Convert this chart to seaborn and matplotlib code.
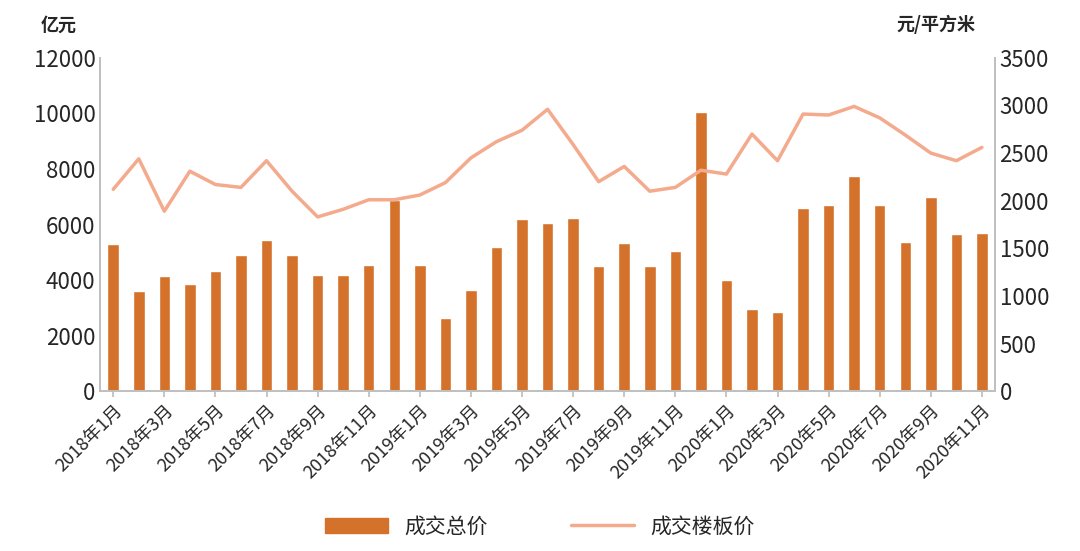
import numpy as np
import pandas as pd
import matplotlib
matplotlib.use("Agg")
import matplotlib.pyplot as plt
import seaborn as sns

months = [f"{y}年{m}月" for y in (2018, 2019, 2020) for m in range(1, 13)][:35]
total_price = [5300, 3600, 4150, 3850, 4330, 4900, 5430, 4900, 4200, 4170, 4550, 6900,
               4550, 2650, 3650, 5200, 6200, 6050, 6230, 4500, 5330, 4500, 5050, 10050,
               4000, 2950, 2850, 6600, 6700, 7750, 6700, 5370, 7000, 5650, 5700]
floor_price = [2120, 2440, 1890, 2310, 2170, 2140, 2420, 2100, 1830, 1910, 2010, 2010,
               2060, 2190, 2450, 2620, 2740, 2960, 2590, 2200, 2360, 2100, 2140, 2320,
               2280, 2700, 2420, 2910, 2900, 2990, 2870, 2690, 2500, 2420, 2560]

df = pd.DataFrame({"month": months, "total": total_price, "floor": floor_price})
df["x"] = np.arange(len(df))

sns.set_theme(style="white")
plt.rcParams['font.family'] = ['Noto Sans CJK SC', 'DejaVu Sans']

fig, ax = plt.subplots(figsize=(10.8, 5.51), dpi=100)
fig.subplots_adjust(left=0.093, right=0.921, top=0.895, bottom=0.29)

bar_c = "#D4722B"
line_c = "#F4AA8C"
sns.barplot(data=df, x="x", y="total", color=bar_c, width=0.45, ax=ax, saturation=1)
ax2 = ax.twinx()
sns.lineplot(data=df, x="x", y="floor", color=line_c, linewidth=2.5, ax=ax2)

ax.set_ylim(0, 12000)
ax.set_yticks(range(0, 12001, 2000))
ax2.set_ylim(0, 3500)
ax2.set_yticks(range(0, 3501, 500))
ax.set_xlim(-0.5, len(df) - 0.5)
ax2.set_xlim(-0.5, len(df) - 0.5)
ax.set_xticks(df["x"][::2])
ax.set_xticklabels(df["month"][::2], rotation=45, ha="right", rotation_mode="anchor", fontsize=13)
for a in (ax, ax2):
    a.set_xlabel("")
    a.set_ylabel("")
    a.tick_params(axis="y", labelsize=16, length=0)
    for s in ("top",):
        a.spines[s].set_visible(False)
    for s in ("left", "right", "bottom"):
        a.spines[s].set_color("#BFBFBF")
ax.tick_params(axis="x", length=4, color="#BFBFBF", bottom=True)

fig.text(0.038, 0.945, "亿元", fontsize=13, fontweight="bold")
fig.text(0.83, 0.945, "元/平方米", fontsize=13, fontweight="bold")

from matplotlib.patches import Patch
from matplotlib.lines import Line2D
handles = [Patch(color=bar_c, label="成交总价"), Line2D([0], [0], color=line_c, lw=2.5, label="成交楼板价")]
fig.legend(handles=handles, loc="lower center", ncol=2, frameon=False, fontsize=15,
           bbox_to_anchor=(0.5, -0.01), columnspacing=4, handlelength=3)

fig.savefig("out.png", dpi=100)
